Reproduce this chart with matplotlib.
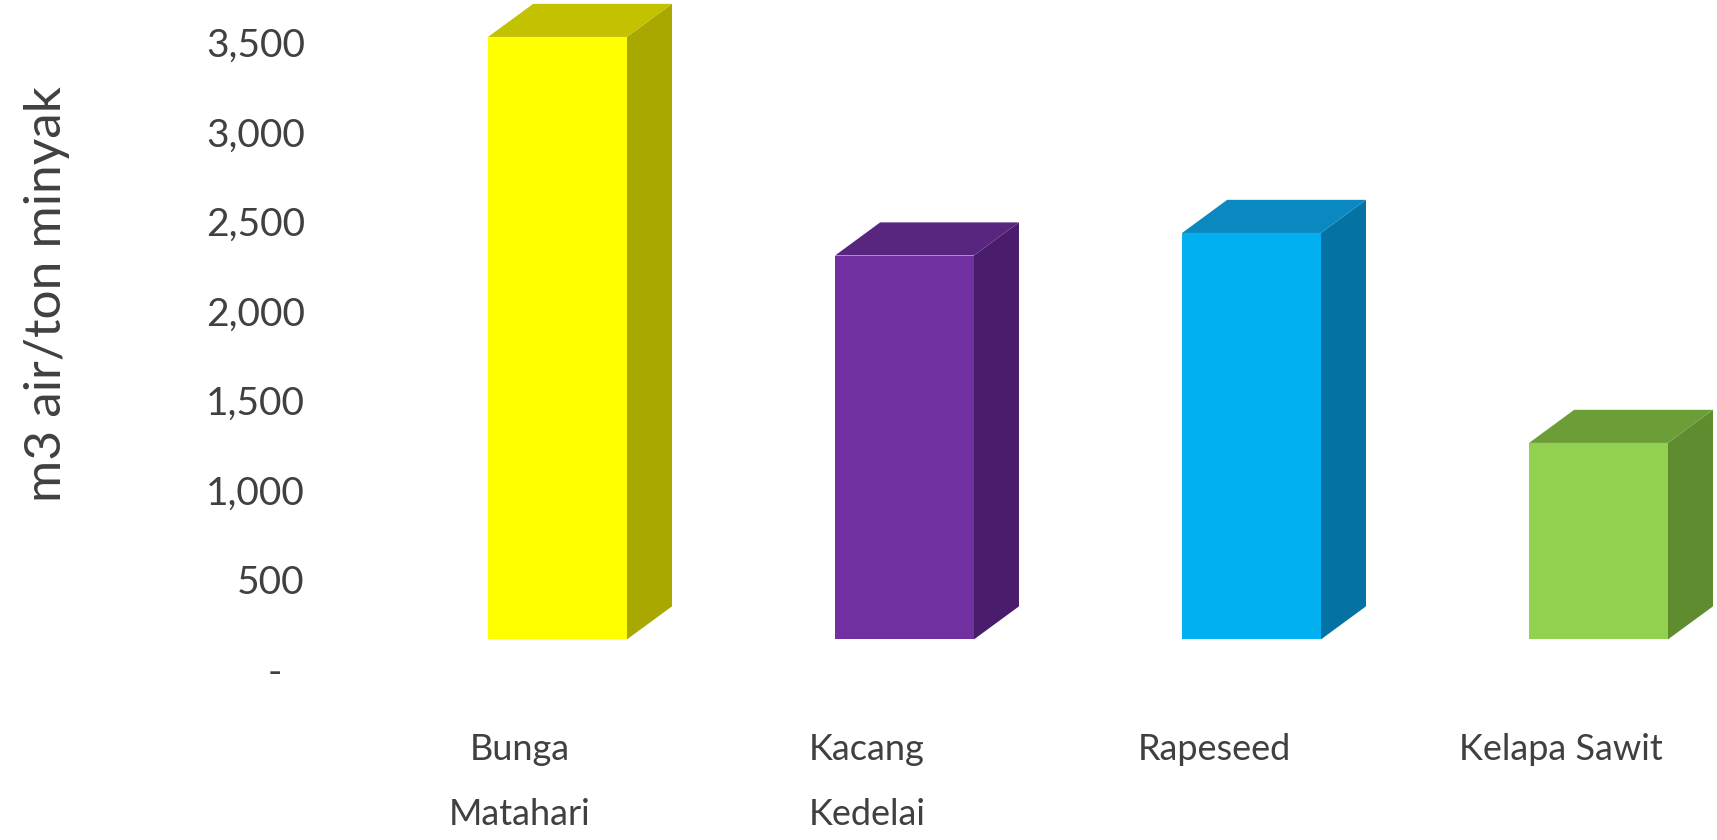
import matplotlib.pyplot as plt
from matplotlib.patches import Polygon
from matplotlib.ticker import FuncFormatter

# data
categories = ["Bunga\nMatahari", "Kacang\nKedelai", "Rapeseed", "Kelapa Sawit"]
values = [3366, 2145, 2271, 1098]
yticks = [0, 500, 1000, 1500, 2000, 2500, 3000, 3500]

front_colors = ["#FFFF00", "#7030A0", "#00B0F0", "#92D050"]
side_colors = ["#A8A800", "#4A1D6C", "#0473A3", "#5E8C2F"]
top_colors = ["#C2C200", "#58267F", "#0A88C0", "#6C9E37"]

plt.rcParams["font.family"] = ["Lato", "DejaVu Sans"]

W, H = 1717, 840
fig = plt.figure(figsize=(W / 100, H / 100), dpi=100)

# pixel layout (from top of figure)
px_per_x = 347.0
px_per_y = 0.179
x0_px = 520.0          # centre of first category
zero_px = 669.0        # y pixel of value 0
ymin, ymax = -257, 3750
xmin, xmax = -0.5, (W - x0_px) / px_per_x

left = (x0_px + xmin * px_per_x) / W
width = (xmax - xmin) * px_per_x / W
bottom_px = zero_px - ymin * px_per_y
height = (ymax - ymin) * px_per_y / H
ax = fig.add_axes([left, (H - bottom_px) / H, width, height])
ax.set_xlim(xmin, xmax)
ax.set_ylim(ymin, ymax)

# fake 3d bars
floor = 165      # front face sits a bit behind the axis baseline
dy = 185         # depth of the box in y units
dx = 0.13        # depth of the box in x units
bw = 0.40
shift = 0.108

for i, v in enumerate(values):
    xl = i + shift - bw / 2
    xr = xl + bw
    ax.bar(xl, v, width=bw, bottom=floor, align="edge",
           color=front_colors[i], linewidth=0, clip_on=False, zorder=3)
    top = floor + v
    side = Polygon([(xr, floor), (xr + dx, floor + dy), (xr + dx, top + dy), (xr, top)],
                   closed=True, facecolor=side_colors[i], linewidth=0, clip_on=False, zorder=2)
    lid = Polygon([(xl, top), (xl + dx, top + dy), (xr + dx, top + dy), (xr, top)],
                  closed=True, facecolor=top_colors[i], linewidth=0, clip_on=False, zorder=2)
    ax.add_patch(side)
    ax.add_patch(lid)

# accounting style: zero shown as a dash with trailing padding
ax.set_yticks(yticks)
ax.yaxis.set_major_formatter(FuncFormatter(lambda v, p: "-\u2007" if v == 0 else f"{int(v):,}"))
ax.set_xticks(range(len(categories)))
ax.set_xticklabels(categories, linespacing=2.2)

ax.tick_params(axis="y", length=0, pad=30, labelsize=28, labelcolor="#404040")
ax.tick_params(axis="x", length=0, pad=13, labelsize=26, labelcolor="#404040")
for s in ax.spines.values():
    s.set_visible(False)

ax.set_ylabel("m3 air/ton minyak", fontsize=37, color="#404040")
ax.yaxis.set_label_coords(70 / W, 1 - 294 / H, transform=fig.transFigure)

fig.savefig("out.png", dpi=100, facecolor="white")
